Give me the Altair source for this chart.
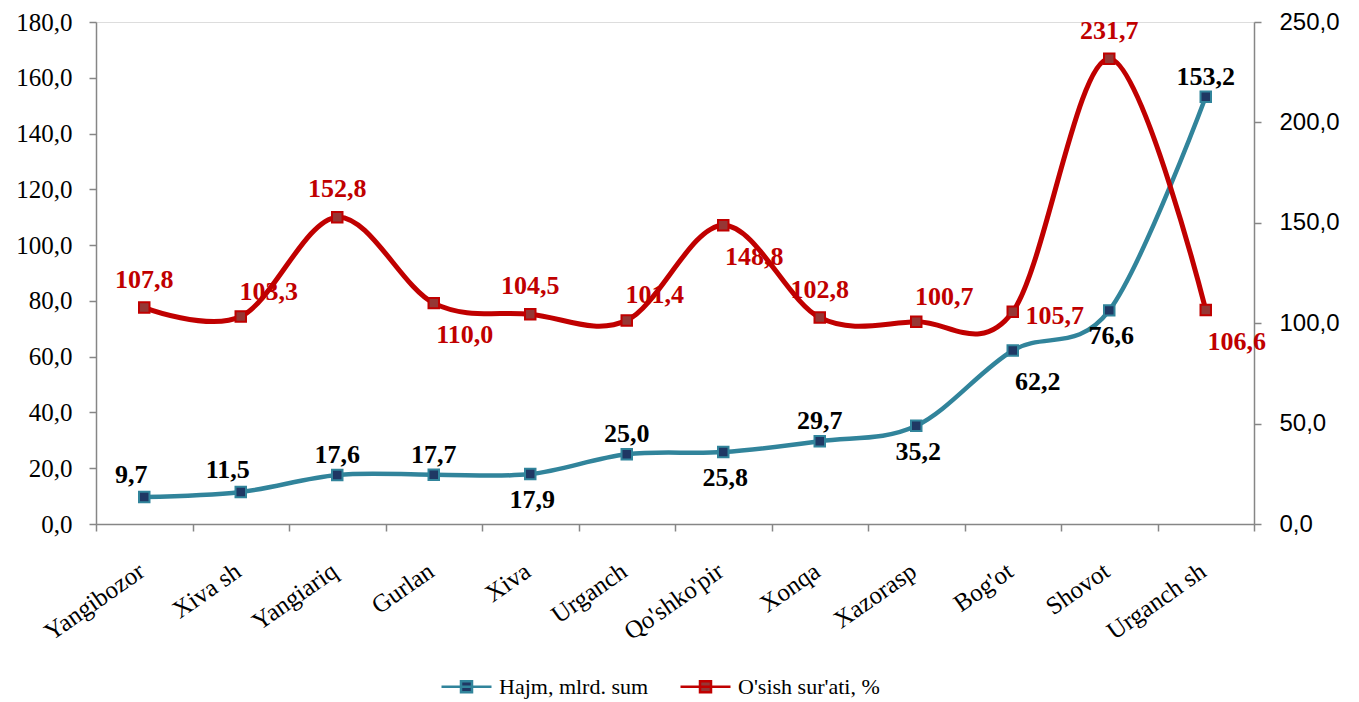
import altair as alt
import pandas as pd

CATS = ["Yangibozor", "Xiva sh", "Yangiariq", "Gurlan", "Xiva", "Urganch",
        "Qo'shko'pir", "Xonqa", "Xazorasp", "Bog'ot", "Shovot", "Urganch sh"]
HAJM = [9.7, 11.5, 17.6, 17.7, 17.9, 25.0, 25.8, 29.7, 35.2, 62.2, 76.6, 153.2]
OSISH = [107.8, 103.3, 152.8, 110.0, 104.5, 101.4, 148.8, 102.8, 100.7, 105.7, 231.7, 106.6]
SERIES = ["Hajm, mlrd. sum", "O'sish sur'ati, %"]

# label placement relative to each marker
HAJM_POS = ["nw", "nw", "n", "n", "s", "n", "s", "n", "s", "se", "s", "n"]
OSISH_POS = ["n", "ne", "n", "se", "n", "ne", "se", "n", "ne", "e", "n", "se"]

rows = []
for c, v, p in zip(CATS, HAJM, HAJM_POS):
    rows.append({"cat": c, "series": SERIES[0], "value": v, "pos": p})
for c, v, p in zip(CATS, OSISH, OSISH_POS):
    rows.append({"cat": c, "series": SERIES[1], "value": v, "pos": p})
df = pd.DataFrame(rows)

LINE_COLORS = ["#31849B", "#C00000"]
FILL_COLORS = ["#1F3864", "#953735"]
AXIS_GRAY = "#868686"
SERIF = "Liberation Serif"
LEGEND_FONT = "Liberation Serif, Times New Roman, serif"
SANS = "Liberation Sans"
FMT = "replace(format(datum.value, '.1f'), '.', ',')"

x_enc = alt.X(
    "cat:N", sort=CATS,
    scale=alt.Scale(type="band", paddingInner=0, paddingOuter=0),
    axis=alt.Axis(title=None, labelAngle=-35, labelAlign="right", labelBaseline="middle",
                  labelFont=SERIF, labelFontSize=25, labelColor="black",
                  labelPadding=37, labelOffset=-3, tickBand="extent", tickSize=7,
                  tickColor=AXIS_GRAY, tickWidth=1.5, domainColor=AXIS_GRAY, domainWidth=1.5),
)

stroke_scale = alt.Scale(domain=SERIES, range=LINE_COLORS)
fill_scale = alt.Scale(domain=SERIES, range=FILL_COLORS)

legend = alt.Legend(
    title=None, orient="none", legendX=344, legendY=638, direction="horizontal",
    symbolType="M-1,0L1,0M-0.22,-0.22L0.22,-0.22L0.22,0.22L-0.22,0.22Z", symbolSize=2500,
    symbolStrokeWidth=2.5, labelFont=LEGEND_FONT, labelFontSize=22, labelColor="black",
    columnPadding=26, labelOffset=6,
)


def series_layer(idx, y_scale, y_axis, offsets, width):
    name = SERIES[idx]
    base = alt.Chart(df).transform_filter(alt.datum.series == name)
    y_enc = alt.Y("value:Q", scale=y_scale, axis=y_axis)
    line = base.mark_line(interpolate="cardinal", strokeWidth=width).encode(
        x=x_enc, y=y_enc,
        stroke=alt.Stroke("series:N", scale=stroke_scale, legend=legend),
    )
    pts = base.mark_point(shape="square", filled=True, size=110, strokeWidth=2,
                          opacity=1).encode(
        x=x_enc, y=y_enc,
        stroke=alt.Stroke("series:N", scale=stroke_scale, legend=legend),
        fill=alt.Fill("series:N", scale=fill_scale, legend=legend),
    )
    layers = [line, pts]
    for pos, (dx, dy) in offsets.items():
        t = base.transform_filter(alt.datum.pos == pos).transform_calculate(
            label="replace(format(datum.value, '.1f'), '.', ',')"
        ).mark_text(font=SERIF, fontWeight="bold", fontSize=26,
                    color=LINE_COLORS[idx] if idx == 1 else "black",
                    dx=dx, dy=dy, baseline="middle", align="center").encode(
            x=x_enc, y=y_enc, text="label:N")
        layers.append(t)
    return alt.layer(*layers)


left_axis = alt.Axis(title=None, values=list(range(0, 181, 20)), labelExpr=FMT, grid=False,
                     labelFont=SERIF, labelFontSize=25, labelColor="black", labelPadding=17,
                     tickSize=7, tickColor=AXIS_GRAY, tickWidth=1.5,
                     domainColor=AXIS_GRAY, domainWidth=1.5)
right_axis = alt.Axis(title=None, orient="right", values=list(range(0, 251, 50)), labelExpr=FMT,
                      grid=False, labelFont=SANS, labelFontSize=24, labelColor="black",
                      labelPadding=18, tickSize=7, tickColor=AXIS_GRAY, tickWidth=1.5,
                      domainColor=AXIS_GRAY, domainWidth=1.5)

hajm_layer = series_layer(0, alt.Scale(domain=[0, 180], nice=False), left_axis,
                          {"nw": (-13, -22), "n": (0, -20), "s": (2, 26), "se": (25, 31)}, 4.5)
osish_layer = series_layer(1, alt.Scale(domain=[0, 250], nice=False), right_axis,
                           {"n": (0, -28), "ne": (28, -25), "se": (31, 32), "e": (42, 4)}, 5)

chart = alt.layer(hajm_layer, osish_layer).resolve_scale(y="independent").properties(
    width=1158, height=502,
    autosize=alt.AutoSizeParams(type="none"),
    padding={"left": 88, "top": 14, "right": 90, "bottom": 176},
).configure_view(stroke=None).configure(background="white", font=SERIF).configure_legend(
    labelFont=LEGEND_FONT, labelFontSize=22, labelColor="black"
)

chart.save("out.html", embed_options={"renderer": "svg", "actions": False})
